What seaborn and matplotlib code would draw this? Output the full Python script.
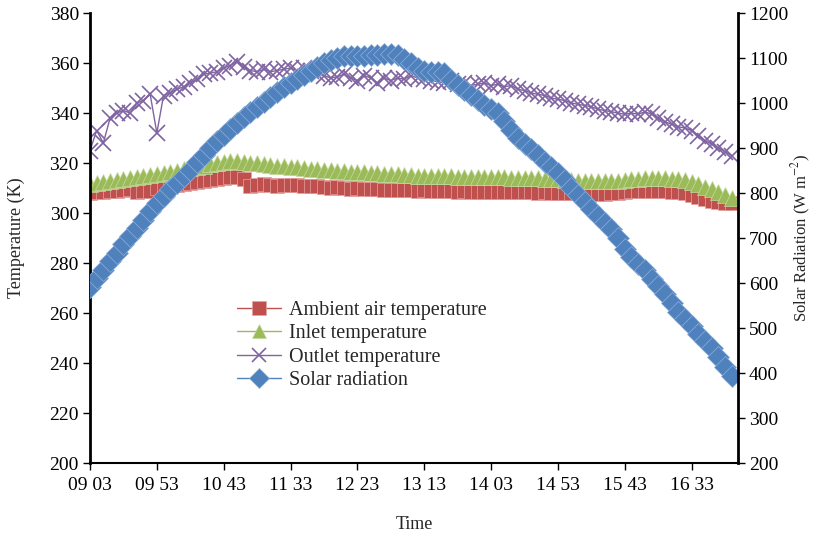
import numpy as np
import pandas as pd
import matplotlib
matplotlib.use("Agg")
import matplotlib.pyplot as plt
import seaborn as sns

# ---- data (5-minute samples starting 09:03) ----
tick_labels = ["09 03", "09 53", "10 43", "11 33", "12 23", "13 13", "14 03", "14 53", "15 43", "16 33"]

ambient = [308, 308.3, 308.5, 308.7, 309, 309.2, 309.5, 308.6, 308.7, 308.8,
           310.2, 310.5, 310.8, 311.2, 311.6, 312, 312.5, 313, 313.3, 313.8,
           314.2, 314.5, 314.3, 313.8, 311, 311.2, 311.5, 311.3, 311, 311.2,
           311.4, 311.2, 311, 310.7, 310.8, 310.5, 310.2, 310.4, 310, 309.8,
           309.9, 309.7, 309.5, 309.6, 309.4, 309.3, 309.2, 309.4, 309.1, 309,
           309.1, 308.9, 308.8, 308.9, 308.7, 308.6, 308.8, 308.6, 308.5, 308.6,
           308.5, 308.4, 308.6, 308.5, 308.3, 308.4, 308.3, 308.2, 308.3, 308.1,
           308.2, 308, 307.9, 308, 307.8, 307.9, 307.7, 307.8, 308, 308.2,
           308.5, 308.7, 308.9, 309, 309, 308.9, 308.8, 308.6, 308.5, 308.2,
           307.2, 306.5, 305.8, 305, 304.5, 304.2, 304]

inlet = [311.5, 312, 312.3, 312.8, 313.2, 313.6, 314, 314.5, 314.8, 315.3,
         315.8, 316.2, 316.6, 317, 317.5, 318, 318.6, 319, 319.5, 320,
         320.4, 320.7, 320.8, 320.5, 320.2, 320, 319.6, 319.3, 319, 318.8,
         318.5, 318.3, 318, 317.8, 317.6, 317.3, 317.1, 316.9, 316.8, 316.6,
         316.5, 316.3, 316.1, 316, 315.8, 315.7, 315.5, 315.3, 315.2, 315,
         315, 314.9, 314.8, 314.8, 314.7, 314.6, 314.6, 314.5, 314.5, 314.5,
         314.4, 314.4, 314.3, 314.2, 314.2, 314.1, 314, 313.9, 313.8, 313.6,
         313.5, 313.3, 313.2, 313, 312.9, 312.8, 312.8, 312.7, 312.8, 313,
         313.2, 313.5, 313.7, 313.9, 314, 314, 313.9, 313.8, 313.6, 313.3,
         312.5, 311.5, 310.5, 309.5, 308.5, 307.3, 306]

outlet = [325, 333, 328, 338, 340, 341, 340, 344, 345, 347.5,
          332, 347, 348, 349.5, 350.5, 352, 353.5, 355.5, 356, 356.5,
          358, 359, 360.5, 358.5, 357, 356.5, 357.5, 356.5, 357, 357.5,
          358, 357, 358, 357, 355.5, 355, 354, 354.5, 355.5, 354,
          353, 355, 354, 352, 354, 353, 354, 353.5, 355, 354,
          353.5, 353, 352.5, 352, 353, 351.5, 352, 351, 351.5, 352,
          351, 351.5, 350.5, 351, 349.5, 349, 348, 347.5, 347, 346,
          345.5, 345, 344, 343.5, 343, 342.5, 341.5, 341, 340.5, 340,
          339.5, 340, 339.5, 340.5, 339.5, 338, 336.5, 335.5, 334.5, 334,
          333, 331, 329, 327.5, 326, 324.5, 323]

solar = [592, 611, 629, 648, 667, 686, 704, 722, 741, 760,
         778, 793, 808, 823, 838, 852, 868, 884, 899, 915,
         930, 943, 956, 969, 981, 992, 1003, 1014, 1024, 1035,
         1045, 1054, 1063, 1072, 1081, 1089, 1096, 1101, 1104, 1105,
         1104, 1105, 1106, 1107, 1108, 1108, 1106, 1098, 1088, 1078,
         1071, 1070, 1069, 1066, 1052, 1040, 1029, 1018, 1006, 996,
         987, 978, 960, 940, 922, 910, 898, 884, 870, 858,
         845, 830, 812, 795, 780, 764, 748, 734, 720, 700,
         676, 657, 643, 628, 610, 594, 575, 555, 536, 521,
         505, 487, 472, 455, 436, 414, 394]

idx = list(range(len(solar)))
df = pd.DataFrame({"idx": idx, "ambient": ambient, "inlet": inlet,
                   "outlet": outlet, "solar": solar})

# ---- style ----
sns.set_theme(style="white")
plt.rcParams["font.family"] = ["Liberation Serif", "DejaVu Serif"]
plt.rcParams["mathtext.fontset"] = "stix"

fig = plt.figure(figsize=(8.13, 5.38), dpi=100)
ax = fig.add_axes([0.1107, 0.1394, 0.9077 - 0.1107, 0.9758 - 0.1394])
ax2 = ax.twinx()

red = "#C0504D"
green = "#9BBB59"
purple = "#8064A2"
blue = "#4F81BD"

sns.lineplot(data=df, x="idx", y="ambient", ax=ax, color=red, marker="s",
             markersize=10.5, markeredgecolor="#E3A3A1", markeredgewidth=0.5,
             linewidth=1, label="Ambient air temperature", legend=False)
sns.lineplot(data=df, x="idx", y="inlet", ax=ax, color=green, marker="^",
             markersize=11, markeredgecolor="#C6DAA3", markeredgewidth=0.5,
             linewidth=1, label="Inlet temperature", legend=False)
sns.lineplot(data=df, x="idx", y="outlet", ax=ax, color=purple, marker="x",
             markersize=11, markeredgecolor=purple, markeredgewidth=1.2,
             linewidth=1, label="Outlet temperature", legend=False)
sns.lineplot(data=df, x="idx", y="solar", ax=ax2, color=blue, marker="D",
             markersize=11, markeredgecolor="#8FB0DA", markeredgewidth=0.5,
             linewidth=1, label="Solar radiation", legend=False)

ax.set_xlim(0, 96.93)
ax.set_ylim(200, 380)
ax2.set_ylim(200, 1200)
ax.set_yticks(np.arange(200, 381, 20))
ax2.set_yticks(np.arange(200, 1201, 100))
ax.set_xticks(np.arange(0, 91, 10))
ax.set_xticklabels(tick_labels)

for a in (ax, ax2):
    for s in a.spines.values():
        s.set_visible(False)
ax.spines["left"].set_visible(True)
ax.spines["bottom"].set_visible(True)
ax2.spines["right"].set_visible(True)
ax.spines["left"].set_linewidth(2)
ax.spines["left"].set_color("black")
ax.spines["bottom"].set_linewidth(1.5)
ax.spines["bottom"].set_color("black")
ax2.spines["right"].set_linewidth(2)
ax2.spines["right"].set_color("black")

ax.tick_params(axis="both", direction="out", length=5, width=1, colors="black",
               labelsize=14, left=True, bottom=True, pad=3)
ax.tick_params(axis="x", pad=5)
ax2.tick_params(axis="y", direction="out", length=5, width=1, colors="black",
                labelsize=14, right=True, pad=3)
ax.grid(False)
ax2.grid(False)

ax.set_xlabel("Time", fontsize=13, labelpad=16)
ax.set_ylabel("Temperature (K)", fontsize=13)
ax2.set_ylabel("Solar Radiation (W m$^{-2}$)", fontsize=12)
ax.yaxis.set_label_coords(-0.1, 0.5)
ax2.yaxis.set_label_coords(1.08, 0.5)

h1, l1 = ax.get_legend_handles_labels()
h2, l2 = ax2.get_legend_handles_labels()
ax2.legend(h1 + h2, l1 + l2, loc="upper left", bbox_to_anchor=(0.281, 0.455),
           bbox_transform=fig.transFigure, frameon=False, fontsize=14.5,
           handlelength=2.2, labelspacing=0.2, handletextpad=0.4,
           borderaxespad=0, markerscale=0.9)

fig.savefig("out.png", dpi=100)
